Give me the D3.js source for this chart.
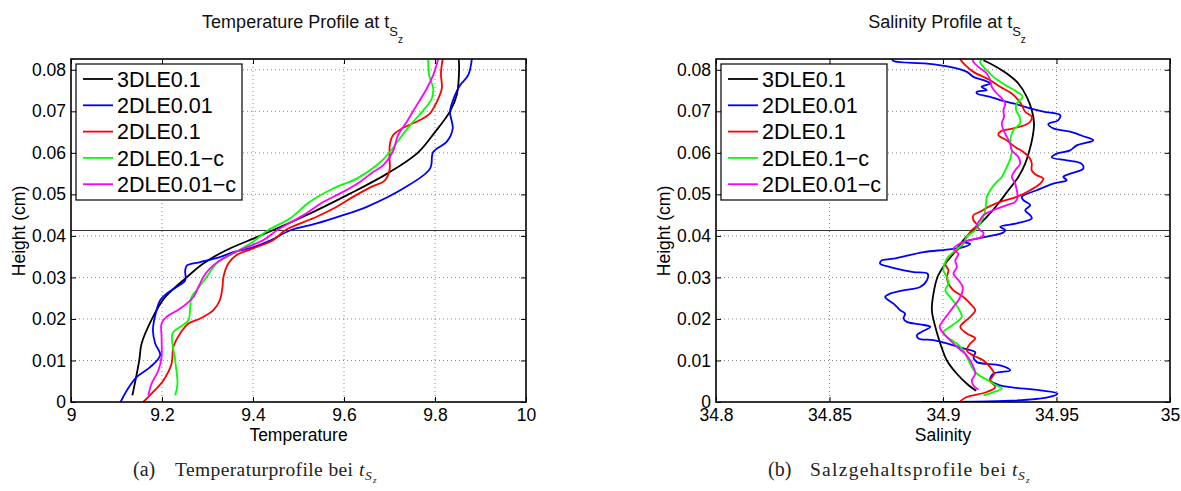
<!DOCTYPE html>
<html><head><meta charset="utf-8">
<script src="https://cdn.jsdelivr.net/npm/d3@7"></script>
<style>body{margin:0;background:#fff}svg{display:block}</style>
</head><body>
<svg id="c" width="1181" height="491"></svg>
<script>
// ---------------- data ----------------
const seriesNames = ["3DLE0.1", "2DLE0.01", "2DLE0.1", "2DLE0.1\u2212c", "2DLE0.01\u2212c"];
const seriesColors = ["#000000", "#0000ff", "#ff0000", "#00ff00", "#ff00ff"];
const interfaceHeight = 0.0413;
const heightMax = 0.0826;
const heightTicks = [0, 0.01, 0.02, 0.03, 0.04, 0.05, 0.06, 0.07, 0.08];
const heightTickLabels = ["0", "0.01", "0.02", "0.03", "0.04", "0.05", "0.06", "0.07", "0.08"];
const tempTicks = [9, 9.2, 9.4, 9.6, 9.8, 10];
const tempTickLabels = ["9", "9.2", "9.4", "9.6", "9.8", "10"];
const salTicks = [34.8, 34.85, 34.9, 34.95, 35];
const salTickLabels = ["34.8", "34.85", "34.9", "34.95", "35"];

// temperature profiles: [height, temperature]
const temp3DLE01 = [[0.0016,9.135],[0.01,9.15],[0.014,9.155],[0.02,9.178],[0.025,9.205],[0.03,9.254],[0.0333,9.29],[0.0365,9.34],[0.04,9.415],[0.0446,9.51],[0.05,9.61],[0.055,9.695],[0.06,9.762],[0.065,9.8],[0.07,9.833],[0.074,9.848],[0.0803,9.853],[0.0826,9.852]];
const temp2DLE001 = [[0,9.109],[0.003,9.124],[0.006,9.144],[0.0084,9.174],[0.0113,9.196],[0.0141,9.185],[0.0173,9.18],[0.0221,9.188],[0.0245,9.196],[0.0261,9.21],[0.0277,9.232],[0.0293,9.251],[0.0317,9.251],[0.0329,9.255],[0.0337,9.284],[0.0349,9.327],[0.0361,9.357],[0.0373,9.401],[0.039,9.44],[0.0413,9.481],[0.043,9.54],[0.045,9.598],[0.047,9.65],[0.0514,9.73],[0.0562,9.789],[0.0602,9.796],[0.0627,9.826],[0.0659,9.839],[0.0699,9.833],[0.0739,9.844],[0.0763,9.855],[0.0787,9.873],[0.0826,9.881]];
const temp2DLE01 = [[0,9.159],[0.002,9.177],[0.0052,9.203],[0.0092,9.221],[0.0133,9.225],[0.0165,9.24],[0.0189,9.258],[0.0201,9.284],[0.0221,9.313],[0.0245,9.327],[0.0277,9.333],[0.0301,9.335],[0.0334,9.346],[0.0354,9.364],[0.037,9.401],[0.039,9.445],[0.0413,9.47],[0.0446,9.54],[0.047,9.584],[0.0494,9.62],[0.0518,9.66],[0.0534,9.69],[0.0558,9.7],[0.059,9.7],[0.0622,9.701],[0.0643,9.708],[0.0659,9.728],[0.0679,9.767],[0.0695,9.789],[0.0723,9.804],[0.0755,9.815],[0.0791,9.813],[0.0826,9.817]];
const temp2DLE01c = [[0.0016,9.229],[0.0044,9.234],[0.01,9.229],[0.0165,9.223],[0.0181,9.24],[0.0197,9.258],[0.0229,9.262],[0.0253,9.265],[0.0269,9.276],[0.0301,9.298],[0.0334,9.32],[0.0358,9.357],[0.0382,9.395],[0.0413,9.432],[0.0442,9.481],[0.0482,9.525],[0.0514,9.576],[0.0538,9.628],[0.057,9.672],[0.0602,9.701],[0.0635,9.723],[0.0675,9.752],[0.0707,9.778],[0.0731,9.793],[0.0755,9.796],[0.0787,9.787],[0.0826,9.785]];
const temp2DLE001c = [[0.0016,9.17],[0.0044,9.177],[0.0076,9.192],[0.0108,9.199],[0.0157,9.199],[0.0189,9.199],[0.0205,9.21],[0.0225,9.24],[0.0253,9.269],[0.0277,9.28],[0.0301,9.291],[0.0321,9.305],[0.0341,9.327],[0.0366,9.371],[0.039,9.423],[0.0413,9.452],[0.045,9.511],[0.0482,9.555],[0.0506,9.598],[0.053,9.635],[0.0554,9.664],[0.057,9.686],[0.0602,9.707],[0.0643,9.719],[0.0675,9.738],[0.0715,9.76],[0.0755,9.782],[0.0787,9.796],[0.0826,9.807]];

// salinity profiles: [height, salinity]
const sal3DLE01 = [[0.0027,34.9146],[0.0044,34.9105],[0.0068,34.9061],[0.01,34.9017],[0.0141,34.8988],[0.0181,34.8966],[0.0221,34.8951],[0.0261,34.8958],[0.0301,34.8976],[0.0333,34.901],[0.0357,34.9046],[0.039,34.909],[0.0414,34.9134],[0.0446,34.9193],[0.0478,34.9244],[0.051,34.9288],[0.0542,34.9332],[0.0574,34.9362],[0.0606,34.9381],[0.0639,34.9395],[0.0671,34.9401],[0.0703,34.9391],[0.0735,34.9369],[0.0767,34.9332],[0.0791,34.9281],[0.0811,34.9222],[0.0823,34.9178]];
const sal2DLE001 = [[0,34.8907],[0.0003,34.93],[0.0011,34.946],[0.002,34.9504],[0.0028,34.9428],[0.004,34.9252],[0.0052,34.9208],[0.0068,34.9222],[0.0076,34.9296],[0.0088,34.9252],[0.0096,34.9149],[0.0108,34.9134],[0.012,34.9142],[0.0129,34.909],[0.0141,34.9017],[0.0149,34.8958],[0.0153,34.8892],[0.0161,34.8885],[0.0169,34.8907],[0.0181,34.8944],[0.0187,34.8899],[0.0193,34.8841],[0.0201,34.8826],[0.0213,34.8833],[0.0221,34.8811],[0.0229,34.8797],[0.0237,34.8782],[0.0245,34.876],[0.0253,34.8745],[0.0261,34.8767],[0.0269,34.8826],[0.0277,34.8899],[0.0293,34.8929],[0.0309,34.8932],[0.0313,34.887],[0.0325,34.8767],[0.0333,34.8723],[0.0341,34.873],[0.0345,34.8782],[0.0361,34.8914],[0.0367,34.9017],[0.0373,34.909],[0.0381,34.912],[0.0385,34.909],[0.0398,34.9193],[0.0408,34.9266],[0.0414,34.9274],[0.0422,34.9252],[0.043,34.9325],[0.0442,34.9391],[0.045,34.9384],[0.0462,34.9362],[0.0474,34.9384],[0.0486,34.9354],[0.0494,34.9347],[0.051,34.9413],[0.0526,34.9486],[0.0534,34.9545],[0.0542,34.953],[0.055,34.956],[0.0562,34.9618],[0.0574,34.961],[0.0582,34.9545],[0.0589,34.9479],[0.0598,34.9501],[0.0606,34.956],[0.0618,34.9589],[0.063,34.9662],[0.064,34.9618],[0.0651,34.956],[0.0659,34.9486],[0.0669,34.9464],[0.0679,34.9508],[0.0691,34.9516],[0.0699,34.9442],[0.0707,34.9384],[0.0719,34.931],[0.0727,34.9252],[0.0735,34.9208],[0.0743,34.9149],[0.0747,34.9149],[0.0751,34.9193],[0.0759,34.917],[0.0767,34.9208],[0.0775,34.9178],[0.0783,34.9134],[0.0795,34.9105],[0.0807,34.9031],[0.0815,34.8929],[0.0821,34.8782],[0.0826,34.8775]];
const sal2DLE01 = [[0.0002,34.9076],[0.0012,34.9105],[0.0024,34.9193],[0.0036,34.923],[0.0052,34.9208],[0.0068,34.9225],[0.0084,34.9208],[0.01,34.9178],[0.0112,34.9134],[0.0124,34.9105],[0.0141,34.912],[0.0153,34.9142],[0.0165,34.9105],[0.0181,34.9076],[0.0205,34.912],[0.0221,34.9142],[0.0237,34.912],[0.0253,34.909],[0.0269,34.9046],[0.0285,34.9024],[0.0301,34.9017],[0.0317,34.9024],[0.0333,34.901],[0.0349,34.9024],[0.0365,34.9061],[0.0382,34.909],[0.0398,34.9105],[0.0414,34.9127],[0.0426,34.9149],[0.0438,34.9134],[0.045,34.9134],[0.0458,34.9163],[0.047,34.92],[0.0482,34.9252],[0.0494,34.9325],[0.051,34.9384],[0.0526,34.9428],[0.0538,34.9442],[0.0546,34.9413],[0.0558,34.9391],[0.0574,34.9391],[0.0586,34.9384],[0.0602,34.9354],[0.0614,34.9318],[0.063,34.9281],[0.0643,34.9244],[0.0651,34.9252],[0.0659,34.931],[0.0667,34.9362],[0.0675,34.9384],[0.0687,34.9391],[0.0699,34.9362],[0.0715,34.9347],[0.0727,34.9332],[0.0743,34.9303],[0.0759,34.9252],[0.0775,34.9208],[0.0795,34.9134],[0.0811,34.9098],[0.0825,34.9076]];
const sal2DLE01c = [[0.0016,34.9178],[0.0024,34.9222],[0.0032,34.9259],[0.0044,34.9222],[0.0056,34.9186],[0.0068,34.9149],[0.0084,34.9127],[0.0108,34.9105],[0.0124,34.909],[0.0141,34.9061],[0.0157,34.9017],[0.0169,34.9002],[0.0181,34.9031],[0.0193,34.9061],[0.0205,34.9083],[0.0217,34.9076],[0.0237,34.9054],[0.0253,34.9031],[0.0269,34.901],[0.0285,34.9024],[0.0301,34.9017],[0.0317,34.9002],[0.0333,34.9007],[0.0349,34.9024],[0.0365,34.9054],[0.0382,34.909],[0.0398,34.9105],[0.0414,34.9142],[0.043,34.9163],[0.0446,34.9178],[0.0462,34.9186],[0.0478,34.919],[0.0494,34.9193],[0.051,34.9208],[0.0526,34.923],[0.0542,34.9259],[0.0558,34.9274],[0.0574,34.9288],[0.059,34.9299],[0.0606,34.9303],[0.0622,34.9296],[0.0639,34.9299],[0.0655,34.931],[0.0671,34.934],[0.0687,34.9337],[0.0703,34.9322],[0.0719,34.9325],[0.0735,34.9351],[0.0747,34.9325],[0.0759,34.9288],[0.0771,34.9252],[0.0783,34.9222],[0.0795,34.92],[0.0807,34.9178],[0.0819,34.9163],[0.0825,34.9171]];
const sal2DLE001c = [[0.003,34.9156],[0.004,34.9134],[0.0052,34.9127],[0.0068,34.9142],[0.0084,34.9134],[0.01,34.912],[0.0116,34.9098],[0.0133,34.9061],[0.0149,34.9031],[0.0165,34.9002],[0.0181,34.8985],[0.0197,34.9002],[0.0213,34.9024],[0.0229,34.9046],[0.0245,34.9068],[0.0261,34.9083],[0.0277,34.9087],[0.0293,34.9068],[0.0309,34.9046],[0.0325,34.9061],[0.0341,34.9054],[0.0357,34.9068],[0.0369,34.9046],[0.0382,34.9076],[0.039,34.912],[0.0398,34.9171],[0.0408,34.9178],[0.0414,34.9163],[0.0426,34.9149],[0.0438,34.9163],[0.045,34.9178],[0.0462,34.9222],[0.0474,34.9281],[0.0482,34.9318],[0.0494,34.9329],[0.051,34.9325],[0.0526,34.9318],[0.0542,34.9303],[0.0558,34.9318],[0.0574,34.934],[0.059,34.9332],[0.0606,34.9303],[0.0622,34.9296],[0.0639,34.9281],[0.0655,34.9266],[0.0671,34.9259],[0.0687,34.9269],[0.0703,34.9266],[0.0719,34.9274],[0.0731,34.9259],[0.0743,34.9237],[0.0759,34.9215],[0.0775,34.9208],[0.0791,34.9193],[0.0807,34.9156],[0.0819,34.9134],[0.0825,34.913]];

const tempSeries = [temp3DLE01, temp2DLE001, temp2DLE01, temp2DLE01c, temp2DLE001c];
const salSeries = [sal3DLE01, sal2DLE001, sal2DLE01, sal2DLE01c, sal2DLE001c];

// ---------------- drawing ----------------
const svg = d3.select("#c");
const sans = "'Liberation Sans', Arial, Helvetica, sans-serif";
const serif = "'Liberation Serif', 'Times New Roman', serif";
const plotTop = 59, plotBottom = 402;

function panel(o) {
  const x = d3.scaleLinear().domain(o.xDomain).range([o.left, o.right]);
  const y = d3.scaleLinear().domain([0, heightMax]).range([plotBottom, plotTop]);
  const g = svg.append("g");
  const clipId = "clip" + o.id;
  svg.append("clipPath").attr("id", clipId).append("rect")
    .attr("x", o.left).attr("y", plotTop).attr("width", o.right - o.left).attr("height", plotBottom - plotTop);

  // grid
  g.append("g").selectAll("line").data(o.xTicks.slice(1, -1)).join("line")
    .attr("x1", d => x(d)).attr("x2", d => x(d)).attr("y1", plotTop).attr("y2", plotBottom)
    .attr("stroke", "#8a8a8a").attr("stroke-width", 1).attr("stroke-dasharray", "1,3");
  g.append("g").selectAll("line").data(heightTicks.slice(1)).join("line")
    .attr("x1", o.left).attr("x2", o.right).attr("y1", d => y(d)).attr("y2", d => y(d))
    .attr("stroke", "#8a8a8a").attr("stroke-width", 1).attr("stroke-dasharray", "1,3");

  // interface line
  g.append("line").attr("x1", o.left).attr("x2", o.right)
    .attr("y1", y(interfaceHeight)).attr("y2", y(interfaceHeight))
    .attr("stroke", "#333").attr("stroke-width", 1.2);

  // series
  const line = d3.line().x(d => x(d[1])).y(d => y(d[0])).curve(d3.curveCatmullRom.alpha(0.5));
  const sg = g.append("g").attr("clip-path", `url(#${clipId})`);
  o.series.forEach((s, i) => {
    sg.append("path").attr("d", line(s)).attr("fill", "none")
      .attr("stroke", seriesColors[i]).attr("stroke-width", 1.8).attr("stroke-linejoin", "round");
  });

  // axes (ticks inside)
  const styleAxis = a => {
    a.select(".domain").remove();
    a.attr("font-family", sans).attr("font-size", 17.5);
    a.selectAll("line").attr("stroke", "#000").attr("stroke-width", 1);
    a.selectAll("text").attr("fill", "#000");
  };
  g.append("g").attr("transform", `translate(0,${plotBottom})`)
    .call(d3.axisBottom(x).tickValues(o.xTicks).tickFormat((d, i) => o.xLabels[i]).tickSizeInner(-5).tickSizeOuter(0).tickPadding(7))
    .call(styleAxis);
  g.append("g").attr("transform", `translate(0,${plotTop})`)
    .call(d3.axisTop(x).tickValues(o.xTicks).tickFormat("").tickSizeInner(-5).tickSizeOuter(0))
    .call(styleAxis);
  g.append("g").attr("transform", `translate(${o.left},0)`)
    .call(d3.axisLeft(y).tickValues(heightTicks).tickFormat((d, i) => heightTickLabels[i]).tickSizeInner(-5).tickSizeOuter(0).tickPadding(5))
    .call(styleAxis);
  g.append("g").attr("transform", `translate(${o.right},0)`)
    .call(d3.axisRight(y).tickValues(heightTicks).tickFormat("").tickSizeInner(-5).tickSizeOuter(0))
    .call(styleAxis);

  // box
  g.append("rect").attr("x", o.left).attr("y", plotTop).attr("width", o.right - o.left).attr("height", plotBottom - plotTop)
    .attr("fill", "none").attr("stroke", "#000").attr("stroke-width", 1.6);

  // legend
  const lg = g.append("g");
  lg.append("rect").attr("x", o.legX).attr("y", 64).attr("width", 166).attr("height", 136)
    .attr("fill", "#fff").attr("stroke", "#000").attr("stroke-width", 1.2);
  seriesNames.forEach((n, i) => {
    const yy = 79 + i * 26.3;
    lg.append("line").attr("x1", o.legX + 7).attr("x2", o.legX + 37).attr("y1", yy).attr("y2", yy)
      .attr("stroke", seriesColors[i]).attr("stroke-width", 1.8);
    lg.append("text").attr("x", o.legX + 41).attr("y", yy + 7.8).text(n)
      .attr("font-family", sans).attr("font-size", 21.5).attr("fill", "#000");
  });

  // title with subscripts
  const cx = (o.left + o.right) / 2;
  const t = g.append("text").attr("x", cx + 4).attr("y", 28).attr("text-anchor", "middle")
    .attr("font-family", sans).attr("font-size", 18).attr("fill", "#111");
  t.append("tspan").text(o.title);
  t.append("tspan").attr("dy", 8).attr("font-size", 13).text("S");
  t.append("tspan").attr("dy", 7).attr("font-size", 10).text("z");

  // axis labels
  g.append("text").attr("x", cx).attr("y", 441).attr("text-anchor", "middle")
    .attr("font-family", sans).attr("font-size", 17.5).attr("fill", "#000").text(o.xLabel);
  g.append("text").attr("transform", `translate(${o.left - 46},${231}) rotate(-90)`).attr("text-anchor", "middle")
    .attr("font-family", sans).attr("font-size", 17.5).attr("fill", "#000").text("Height (cm)");

  // caption
  const capY = 476;
  const cap = g.append("g").attr("font-family", serif).attr("fill", "#222");
  cap.append("text").attr("x", o.capX).attr("y", capY).attr("font-size", 20).text(o.capLetter);
  cap.append("text").attr("x", o.capX + 42).attr("y", capY).attr("font-size", 19.5)
    .attr("textLength", o.capLen).attr("lengthAdjust", "spacing").text(o.caption);
  const tx = o.capX + 42 + o.capLen + 6;
  cap.append("text").attr("x", tx).attr("y", capY).attr("font-size", 19.5).attr("font-style", "italic").text("t");
  cap.append("text").attr("x", tx + 6).attr("y", capY + 4).attr("font-size", 13.5).attr("font-style", "italic").text("S");
  cap.append("text").attr("x", tx + 14).attr("y", capY + 7).attr("font-size", 9).attr("font-style", "italic").text("z");
}

panel({
  id: "T", left: 71, right: 526, xDomain: [9, 10], xTicks: tempTicks, xLabels: tempTickLabels,
  series: tempSeries, legX: 76, title: "Temperature Profile at t", xLabel: "Temperature",
  capX: 133, capLetter: "(a)", caption: "Temperaturprofile bei", capLen: 178
});
panel({
  id: "S", left: 716, right: 1170, xDomain: [34.8, 35], xTicks: salTicks, xLabels: salTickLabels,
  series: salSeries, legX: 721, title: "Salinity Profile at t", xLabel: "Salinity",
  capX: 768, capLetter: "(b)", caption: "Salzgehaltsprofile bei", capLen: 196
});
</script>
</body></html>
